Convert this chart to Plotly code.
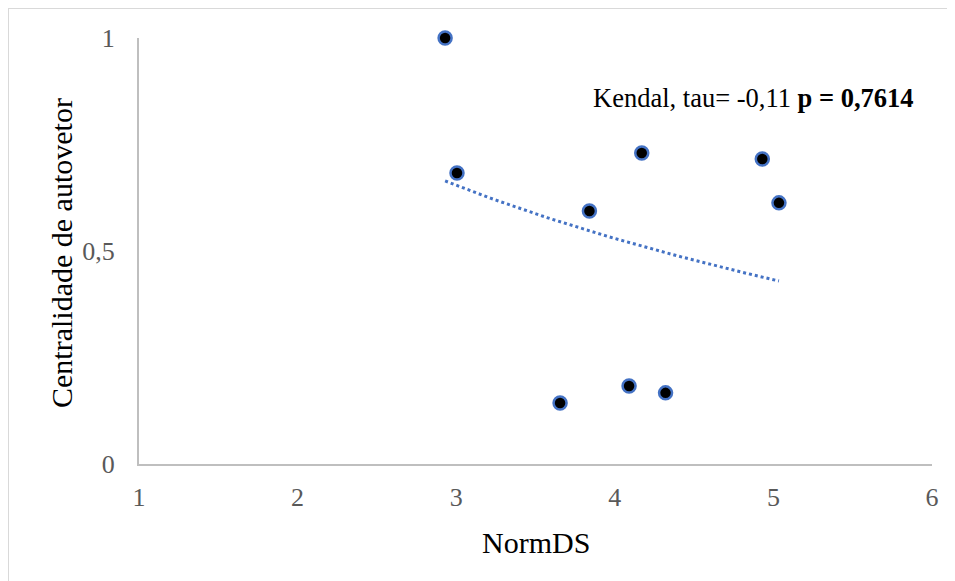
import numpy as np
import plotly.graph_objects as go

# Data
norm_ds = [2.93, 3.005, 3.84, 4.17, 4.93, 5.035, 3.655, 4.09, 4.32]
centralidade = [1.0, 0.683, 0.594, 0.730, 0.716, 0.613, 0.143, 0.183, 0.167]
x_ticks = [1, 2, 3, 4, 5, 6]
y_ticks = [0, 0.5, 1]
y_tick_labels = ["0", "0,5", "1"]

# Logarithmic trendline fitted to the data (y = a + b ln x)
b, a = np.polyfit(np.log(norm_ds), centralidade, 1)
tx = np.linspace(min(norm_ds), max(norm_ds), 60)
ty = a + b * np.log(tx)

SERIF = "Liberation Serif, Times New Roman, serif"
BLUE = "#4472C4"

fig = go.Figure()
fig.add_trace(go.Scatter(x=tx, y=ty, mode="lines",
                         line=dict(color=BLUE, width=3, dash="dot"),
                         hoverinfo="skip", showlegend=False, cliponaxis=False))
fig.add_trace(go.Scatter(x=norm_ds, y=centralidade, mode="markers",
                         marker=dict(size=13, color="black",
                                     line=dict(color=BLUE, width=2.5)),
                         showlegend=False, cliponaxis=False))

OFF = 8  # page body margin
W, H = 955, 581
L, T = 139 - OFF, 38 - OFF
pw, ph = 932 - 139, 464 - 38
R, B = W - L - pw, H - T - ph


def px(xp):
    return (xp - OFF - L) / pw


def py(yp):
    return 1 - (yp - OFF - T) / ph


fig.update_layout(
    width=W, height=H,
    margin=dict(l=L, r=R, t=T, b=B, pad=0),
    paper_bgcolor="white", plot_bgcolor="white",
    font=dict(family=SERIF, color="#595959", size=26),
    xaxis=dict(range=[1, 6], tickvals=x_ticks, showgrid=False, zeroline=False,
               showline=True, linecolor="#BFBFBF", linewidth=2,
               ticks="", ticklabelstandoff=9,
               tickfont=dict(family=SERIF, size=26, color="#595959")),
    yaxis=dict(range=[0, 1], tickvals=y_ticks, ticktext=y_tick_labels,
               showgrid=False, zeroline=False,
               showline=True, linecolor="#BFBFBF", linewidth=2,
               ticks="", ticklabelstandoff=17,
               tickfont=dict(family=SERIF, size=26, color="#595959")),
    shapes=[dict(type="rect", xref="paper", yref="paper",
                 x0=px(8), x1=px(W + 40),
                 y0=py(H + 40), y1=py(8),
                 line=dict(color="#D9D9D9", width=2), layer="below")],
    annotations=[
        dict(text="Kendal, tau= -0,11 <b>p = 0,7614</b>", xref="paper", yref="paper",
             x=px(753), y=py(98), showarrow=False,
             xanchor="center", yanchor="middle",
             font=dict(family=SERIF, size=26.5, color="black")),
        dict(text="NormDS", xref="paper", yref="paper",
             x=0.5, y=py(542), showarrow=False,
             xanchor="center", yanchor="middle",
             font=dict(family=SERIF, size=30, color="black")),
        dict(text="Centralidade de autovetor", xref="paper", yref="paper",
             x=px(62), y=py(253), showarrow=False, textangle=-90,
             xanchor="center", yanchor="middle",
             font=dict(family=SERIF, size=30, color="black")),
    ],
)

fig.write_html("out.html")
